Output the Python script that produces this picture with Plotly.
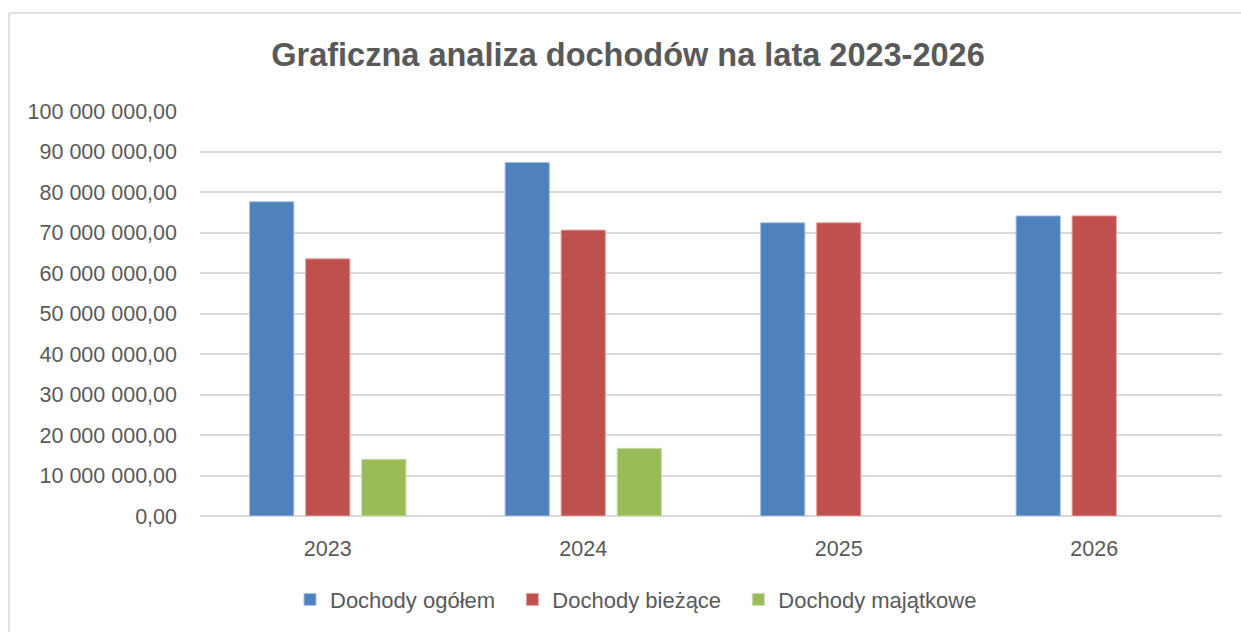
import plotly.graph_objects as go

years = ["2023", "2024", "2025", "2026"]
dochody_ogolem = [77_600_000, 87_300_000, 72_400_000, 74_100_000]
dochody_biezace = [63_500_000, 70_600_000, 72_400_000, 74_100_000]
dochody_majatkowe = [14_000_000, 16_700_000, None, None]

pad = "\u00a0\u00a0"
series = [
    ("Dochody ogółem" + pad, dochody_ogolem, "#4f81bd", "#a9c1e0"),
    ("Dochody bieżące" + pad, dochody_biezace, "#c0504d", "#e2a5a3"),
    ("Dochody majątkowe", dochody_majatkowe, "#9bbb59", "#cbdcac"),
]

fig = go.Figure()
for name, vals, col, edge in series:
    fig.add_trace(go.Bar(
        x=years, y=vals, name=name,
        marker=dict(color=col, line=dict(color=edge, width=1)),
    ))

W, H = 1241, 632
L, R, T, B = 200, 19, 111, 114
pw, ph = W - L - R, H - T - B

def px_x(p):
    return (p - L) / pw

def px_y(p):
    return (H - B - p) / ph

grey = "#595959"
fig.update_layout(
    width=W, height=H,
    margin=dict(l=L, r=R, t=T, b=B),
    paper_bgcolor="white", plot_bgcolor="white",
    separators=", ",
    barmode="group", bargap=0.342, bargroupgap=0.21,
    font=dict(family="Liberation Sans", color=grey, size=20),
    title=dict(text="<b>Graficzna analiza dochodów na lata 2023-2026</b>",
               x=628 / W, y=1 - 55 / H, xanchor="center", yanchor="middle",
               xref="container", yref="container",
               font=dict(family="Liberation Sans", size=32.5, color=grey)),
    legend=dict(orientation="h", x=px_x(290), y=px_y(602), xanchor="left", yanchor="middle",
                font=dict(size=22, color=grey), itemclick=False),
    yaxis=dict(range=[0, 100_000_000], dtick=10_000_000, tickformat=",.2f",
               showgrid=True, gridcolor="#d9d9d9", gridwidth=1.5,
               zeroline=True, zerolinecolor="#d9d9d9", zerolinewidth=2,
               showline=False, ticks="", ticklabelstandoff=22,
               tickfont=dict(size=21.5, color=grey), fixedrange=True),
    xaxis=dict(showline=False, ticks="", tickfont=dict(size=21.5, color=grey),
               ticklabelstandoff=17, fixedrange=True),
    shapes=[
        dict(type="line", xref="paper", yref="paper",
             x0=px_x(9), x1=px_x(W + 5), y0=1 + (T - 12.5) / ph, y1=1 + (T - 12.5) / ph,
             line=dict(color="#d9d9d9", width=1.5)),
        dict(type="line", xref="paper", yref="paper",
             x0=px_x(9), x1=px_x(9), y0=1 + (T - 12.5) / ph, y1=px_y(H + 5),
             line=dict(color="#d9d9d9", width=1.5)),
    ],
)

fig.write_html("out.html", config={"displayModeBar": False},
               post_script="document.body.style.margin='0';document.body.style.overflow='hidden';")
